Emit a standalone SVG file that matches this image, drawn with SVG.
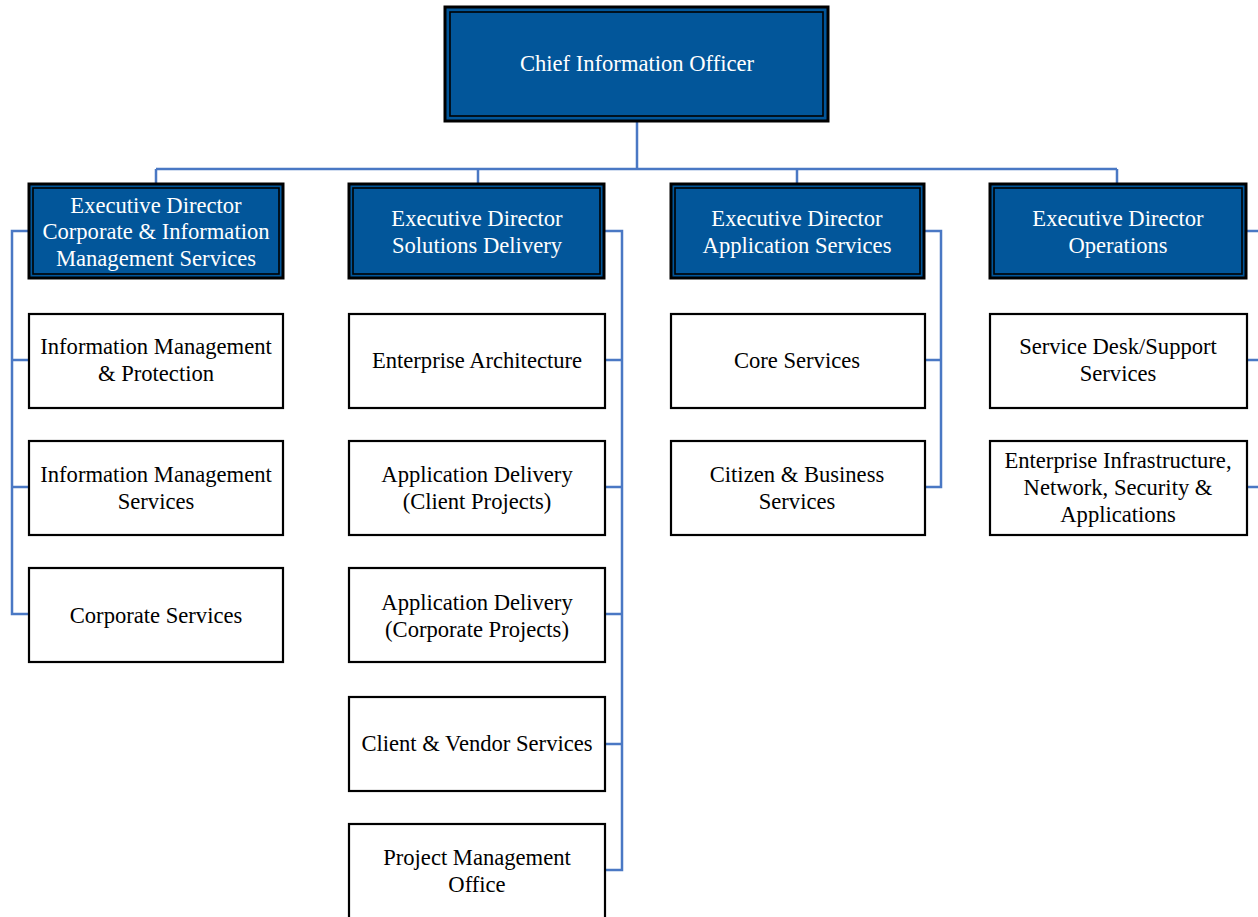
<svg xmlns="http://www.w3.org/2000/svg" width="1258" height="917" viewBox="0 0 1258 917">
<style>
.ex{fill:#02569A;stroke:#000;stroke-width:3}
.exi{fill:none;stroke:#000;stroke-width:1.6}
.bx{fill:#fff;stroke:#000;stroke-width:2.2}
.tw{font-family:"Liberation Serif","Times New Roman",serif;font-size:22.6px;fill:#fff;text-anchor:middle;dominant-baseline:central}
.tb{font-family:"Liberation Serif","Times New Roman",serif;font-size:22.6px;fill:#000;text-anchor:middle;dominant-baseline:central}
.cn{fill:none;stroke:#4A78C4;stroke-width:2.5}
</style>
<rect width="1258" height="917" fill="#fff"/>
<g id="connectors">
<path class="cn" d="M637 121V169M156 169H1117M156 169V183M478 169V183M797 169V183M1117 169V183"/>
<path class="cn" d="M28 231H12V614H28M12 360H28M12 487H28"/>
<path class="cn" d="M605 231H622V870H605M605 360H622M605 487H622M605 614H622M605 744H622"/>
<path class="cn" d="M925 231H941V487H925M925 360H941"/>
<path class="cn" d="M1247 231H1260M1247 360H1260M1247 487H1260"/>
</g>
<g id="cio">
<rect class="ex" x="445" y="7" width="383" height="114"/>
<rect class="exi" x="450" y="12" width="373" height="104"/>
<text class="tw" x="637" y="63">Chief Information Officer</text>
</g>
<g id="ed-cims">
<rect class="ex" x="29" y="184" width="254" height="94"/>
<rect class="exi" x="33" y="188" width="246" height="86"/>
<text class="tw" x="156" y="205">Executive Director</text>
<text class="tw" x="156" y="231">Corporate &amp; Information</text>
<text class="tw" x="156" y="258">Management Services</text>
</g>
<g id="ed-sd">
<rect class="ex" x="349" y="184" width="255" height="94"/>
<rect class="exi" x="353" y="188" width="247" height="86"/>
<text class="tw" x="477" y="218">Executive Director</text>
<text class="tw" x="477" y="245">Solutions Delivery</text>
</g>
<g id="ed-as">
<rect class="ex" x="671" y="184" width="253" height="94"/>
<rect class="exi" x="675" y="188" width="245" height="86"/>
<text class="tw" x="797" y="218">Executive Director</text>
<text class="tw" x="797" y="245">Application Services</text>
</g>
<g id="ed-ops">
<rect class="ex" x="990" y="184" width="256" height="94"/>
<rect class="exi" x="994" y="188" width="248" height="86"/>
<text class="tw" x="1118" y="218">Executive Director</text>
<text class="tw" x="1118" y="245">Operations</text>
</g>
<g id="imp"><rect class="bx" x="29" y="314" width="254" height="94"/><text class="tb" x="156" y="346">Information Management</text><text class="tb" x="156" y="373">&amp; Protection</text></g>
<g id="ims"><rect class="bx" x="29" y="441" width="254" height="94"/><text class="tb" x="156" y="474">Information Management</text><text class="tb" x="156" y="501">Services</text></g>
<g id="cs"><rect class="bx" x="29" y="568" width="254" height="94"/><text class="tb" x="156" y="615">Corporate Services</text></g>
<g id="ea"><rect class="bx" x="349" y="314" width="256" height="94"/><text class="tb" x="477" y="360">Enterprise Architecture</text></g>
<g id="adcl"><rect class="bx" x="349" y="441" width="256" height="94"/><text class="tb" x="477" y="474">Application Delivery</text><text class="tb" x="477" y="501">(Client Projects)</text></g>
<g id="adco"><rect class="bx" x="349" y="568" width="256" height="94"/><text class="tb" x="477" y="602">Application Delivery</text><text class="tb" x="477" y="629">(Corporate Projects)</text></g>
<g id="cvs"><rect class="bx" x="349" y="697" width="256" height="94"/><text class="tb" x="477" y="743">Client &amp; Vendor Services</text></g>
<g id="pmo"><rect class="bx" x="349" y="824" width="256" height="100"/><text class="tb" x="477" y="857">Project Management</text><text class="tb" x="477" y="884">Office</text></g>
<g id="core"><rect class="bx" x="671" y="314" width="254" height="94"/><text class="tb" x="797" y="360">Core Services</text></g>
<g id="cbs"><rect class="bx" x="671" y="441" width="254" height="94"/><text class="tb" x="797" y="474">Citizen &amp; Business</text><text class="tb" x="797" y="501">Services</text></g>
<g id="sds"><rect class="bx" x="990" y="314" width="257" height="94"/><text class="tb" x="1118" y="346">Service Desk/Support</text><text class="tb" x="1118" y="373">Services</text></g>
<g id="ein"><rect class="bx" x="990" y="441" width="257" height="94"/><text class="tb" x="1118" y="460">Enterprise Infrastructure,</text><text class="tb" x="1118" y="487">Network, Security &amp;</text><text class="tb" x="1118" y="514">Applications</text></g>
</svg>
